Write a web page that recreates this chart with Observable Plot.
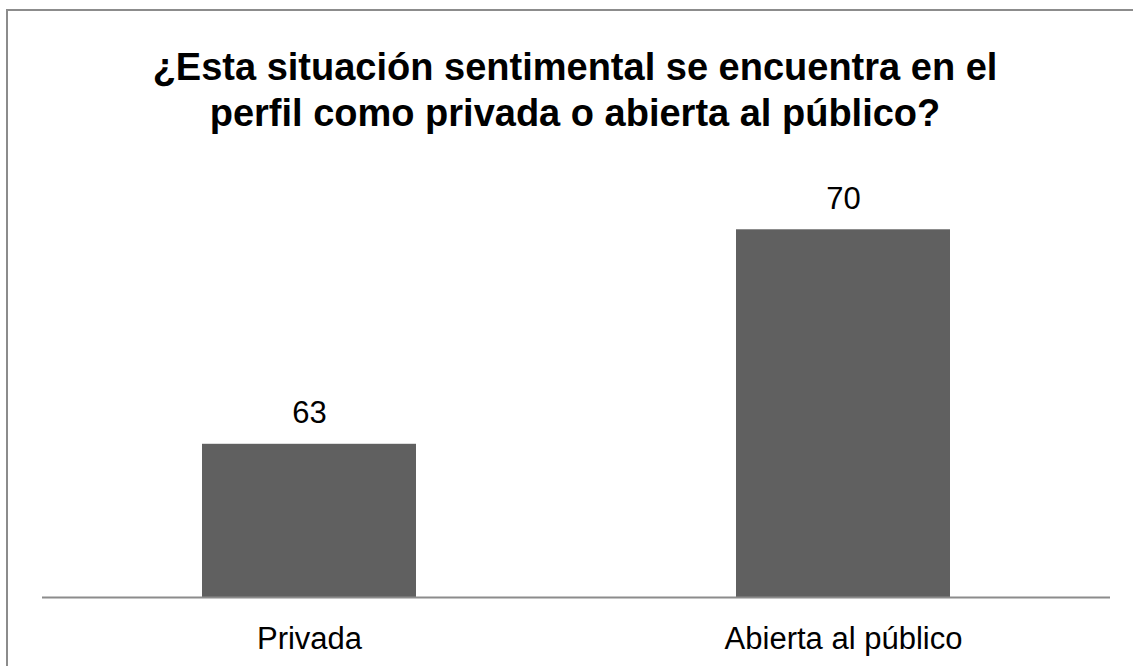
<!DOCTYPE html>
<html>
<head>
<meta charset="utf-8">
<script src="https://cdn.jsdelivr.net/npm/d3@7"></script>
<script src="https://cdn.jsdelivr.net/npm/@observablehq/plot@0.6"></script>
<style>
  html, body { margin: 0; padding: 0; background: #fff; }
  body { width: 1133px; height: 666px; position: relative; overflow: hidden; font-family: "Liberation Sans", Arial, sans-serif; }
  #frame { position: absolute; left: 6px; top: 9px; width: 1200px; height: 700px; border-left: 2px solid #8c8c8c; border-top: 2px solid #8c8c8c; }
  #title { position: absolute; left: 0; top: 44px; width: 1150px; text-align: center; font-size: 38px; font-weight: bold; line-height: 46px; color: #000; }
  #chart { position: absolute; left: 0; top: 0; }
</style>
</head>
<body>
<div id="frame"></div>
<div id="chart"></div>
<div id="title">¿Esta situación sentimental se encuentra en el<br>perfil como privada o abierta al público?</div>
<script>
const categories = ["Privada", "Abierta al público"];
const values = [63, 70];
const yDomain = [58, 72];

const data = categories.map((c, i) => ({category: c, value: values[i]}));

const chart = Plot.plot({
  width: 1133,
  height: 666,
  marginLeft: 42,
  marginRight: 23,
  marginTop: 168,
  marginBottom: 69,
  style: {fontFamily: "Liberation Sans, Arial, sans-serif", fontSize: "31px", color: "#000", background: "transparent"},
  x: {domain: categories, paddingInner: 0.6, paddingOuter: 0.3, label: null},
  y: {domain: yDomain, axis: null},
  marks: [
    Plot.barY(data, {x: "category", y1: yDomain[0], y2: "value", fill: "#606060"}),
    Plot.ruleY([yDomain[0]], {stroke: "#8c8c8c", strokeWidth: 2}),
    Plot.text(data, {x: "category", y: "value", text: d => String(d.value), dy: -31, fontSize: 31, fill: "#000"}),
    Plot.axisX({tickSize: 0, tickPadding: 29, fontSize: 31, fill: "#000", label: null})
  ]
});
document.getElementById("chart").appendChild(chart);
</script>
</body>
</html>
